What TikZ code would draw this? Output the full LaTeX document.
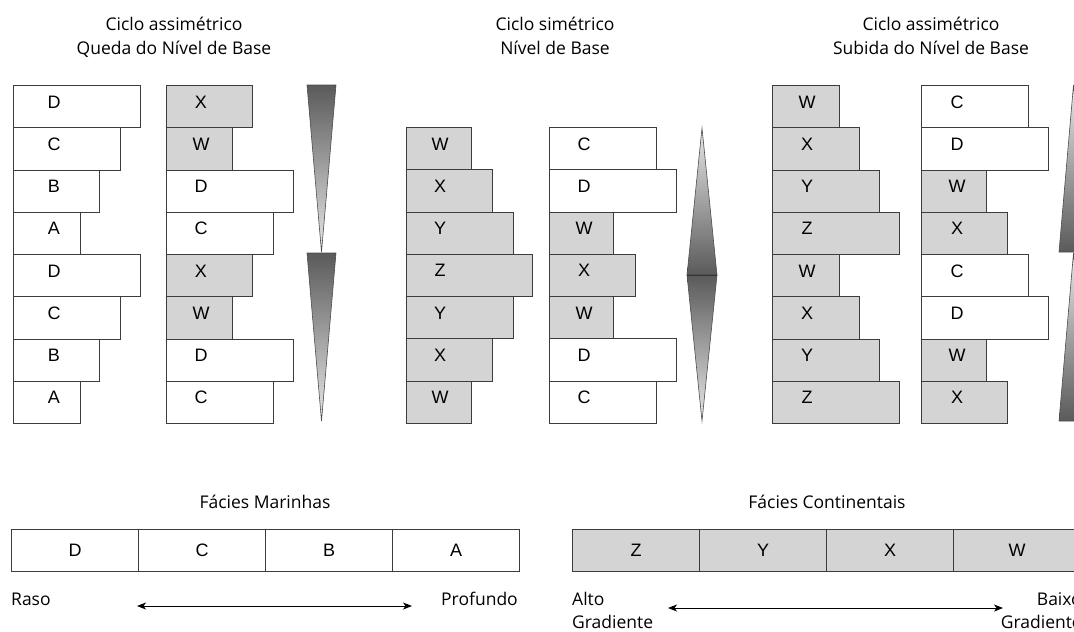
\documentclass[tikz,border=0pt]{standalone}
\usepackage{fontspec}
\setmainfont{Open Sans}
\newfontfamily\arialf{Liberation Sans}
\usetikzlibrary{arrows.meta}
\definecolor{edge}{HTML}{3C3C3C}
\definecolor{fillg}{HTML}{D4D4D4}
\definecolor{gdark}{HTML}{5A5A5A}
\definecolor{glight}{HTML}{E8E8E8}
\newcommand\mkstack[5]{%
  \foreach \w/\l/\f [count=\i] in {#5} {
    \node[box, fill=\f, minimum width=\w pt] (#1\i) at (#2, {#3+(\i-1)*42.25}) {};
    \node[lbl] (#1\i t) at ([xshift=#4pt, yshift=-23pt]#1\i.north west) {\l};
  }}
\begin{document}
\begin{tikzpicture}[x=1pt,y=-1pt,
  box/.style={draw=edge, line width=1.1pt, anchor=north west, inner sep=0pt, minimum height=42.25pt},
  lbl/.style={anchor=base, inner sep=0pt, font=\arialf\fontsize{18}{18}\selectfont},
  cell/.style={draw=edge, line width=1.1pt, inner sep=0pt, minimum height=42pt, anchor=north west, font=\arialf\fontsize{18}{18}\selectfont},
  ttl/.style={anchor=base, inner sep=0pt, font=\fontsize{17.5}{20}\selectfont},
  side/.style={inner sep=0pt, font=\fontsize{17.5}{20}\selectfont},
  tri/.style={draw=gray!60!black, line width=0.6pt},
  dbl/.style={{Stealth[length=9pt,width=7pt,inset=2.5pt]}-{Stealth[length=9pt,width=7pt,inset=2.5pt]}, line width=1pt}
]
\useasboundingbox (0,0) rectangle (1074,632);
\clip (0,0) rectangle (1074,632);

% titles
\node[ttl] (t1a) at (174,30) {Ciclo assimétrico};
\node[ttl] (t1b) at (174,54) {Queda do Nível de Base};
\node[ttl] (t2a) at (555,30) {Ciclo simétrico};
\node[ttl] (t2b) at (555,54) {Nível de Base};
\node[ttl] (t3a) at (931,30) {Ciclo assimétrico};
\node[ttl] (t3b) at (931,54) {Subida do Nível de Base};

% stacks
\mkstack{a}{13}{85}{41}{127/D/white,107/C/white,86/B/white,67/A/white,127/D/white,107/C/white,86/B/white,67/A/white}
\mkstack{b}{166}{85}{35}{86/X/fillg,66/W/fillg,127/D/white,107/C/white,86/X/fillg,66/W/fillg,127/D/white,107/C/white}
\mkstack{c}{406}{127}{34}{65/W/fillg,86/X/fillg,107/Y/fillg,126/Z/fillg,107/Y/fillg,86/X/fillg,65/W/fillg}
\mkstack{d}{549}{127}{35}{107/C/white,127/D/white,64/W/fillg,86/X/fillg,64/W/fillg,127/D/white,107/C/white}
\mkstack{e}{772}{85}{35}{67/W/fillg,87/X/fillg,107/Y/fillg,127/Z/fillg,67/W/fillg,87/X/fillg,107/Y/fillg,127/Z/fillg}
\mkstack{f}{921}{85}{36}{107/C/white,127/D/white,65/W/fillg,86/X/fillg,107/C/white,127/D/white,65/W/fillg,86/X/fillg}

% left triangles (dark top)
\shadedraw[tri, top color=gdark, bottom color=glight] (307,85) -- (336,85) -- (321.5,252) -- cycle;
\shadedraw[tri, top color=gdark, bottom color=glight] (307,253) -- (336,253) -- (321.5,421) -- cycle;
% diamond
\shadedraw[tri, top color=glight, bottom color=gdark] (702,128) -- (717,275) -- (687,275) -- cycle;
\shadedraw[tri, top color=gdark, bottom color=glight] (687,275) -- (717,275) -- (702,421) -- cycle;
\draw[gray!40!black, line width=1pt] (687,275) -- (717,275);
% right triangles (dark bottom)
\shadedraw[tri, top color=glight, bottom color=gdark] (1073.5,85) -- (1088,252) -- (1059,252) -- cycle;
\shadedraw[tri, top color=glight, bottom color=gdark] (1073.5,253) -- (1088,421) -- (1059,421) -- cycle;

% bottom: marine
\node[ttl] (fm) at (265,508) {Fácies Marinhas};
\foreach \l [count=\i] in {D,C,B,A}
  \node[cell, fill=white, minimum width=127pt] (m\i) at ({11+(\i-1)*127},529) {\l};
\node[side, anchor=base west] (raso) at (11,605) {Raso};
\node[side, anchor=base east] (prof) at (518,605) {Profundo};
\coordinate (ma) at (137,606);
\coordinate (mb) at (412,606);
\draw[dbl] (ma) -- (mb);

% bottom: continental
\node[ttl] (fc) at (827,508) {Fácies Continentais};
\foreach \l [count=\i] in {Z,Y,X,W}
  \node[cell, fill=fillg, minimum width=127pt] (k\i) at ({572+(\i-1)*127},529) {\l};
\node[side, anchor=base west] (alto) at (572,605) {Alto};
\node[side, anchor=base west] (grad1) at (572,628) {Gradiente};
\node[side, anchor=base east] (baixo) at (1082,605) {Baixo};
\node[side, anchor=base east] (grad2) at (1082,628) {Gradiente};
\coordinate (ka) at (668,608);
\coordinate (kb) at (1003,608);
\draw[dbl] (ka) -- (kb);
\end{tikzpicture}
\end{document}
